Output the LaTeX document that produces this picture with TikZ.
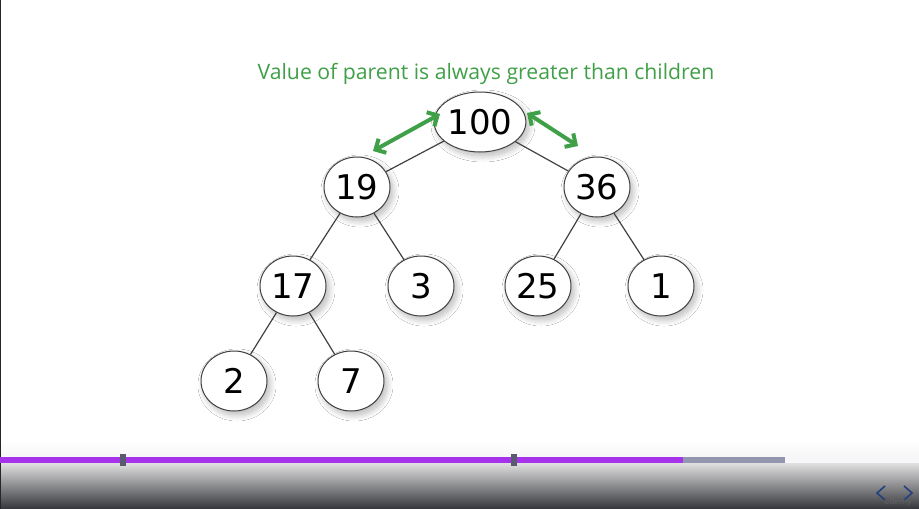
\documentclass[tikz,border=0pt]{standalone}
\usepackage{fontspec}
\setmainfont{DejaVu Sans}
\newfontfamily\greenfont{Open Sans}
\usetikzlibrary{shapes.geometric,shadows.blur,arrows.meta}
\definecolor{hgreen}{RGB}{64,160,72}
\definecolor{edgegray}{RGB}{65,65,65}
\definecolor{barpurple}{RGB}{166,51,234}
\definecolor{bargray}{RGB}{146,150,174}
\definecolor{barlight}{RGB}{246,246,248}
\definecolor{markgray}{RGB}{88,90,110}
\definecolor{chevblue}{RGB}{35,65,125}
\begin{document}
\begin{tikzpicture}[x=1pt,y=-1pt,
  heapnode/.style={ellipse, draw=black!75, line width=1pt, fill=white,
    minimum width=66pt, minimum height=60pt, inner sep=0pt,
    font=\fontsize{34}{34}\selectfont,
    blur shadow={shadow xshift=3pt, shadow yshift=-4pt, shadow blur radius=6pt, shadow blur steps=16, shadow opacity=28}},
  heapedge/.style={draw=edgegray, line width=1.2pt},
  cmparrow/.style={draw=hgreen, line width=4pt, {Straight Barb[length=8pt,width=16pt]}-{Straight Barb[length=8pt,width=16pt]}}
]
\useasboundingbox (0,0) rectangle (919,509);
\fill[white] (0,0) rectangle (919,509);
% left border
\draw[black!85, line width=1.2pt] (0.6,0) -- (0.6,509);
% caption
\node[text=hgreen, font=\greenfont\fontsize{21.2}{23}\selectfont] (cap) at (486,74) {Value of parent is always greater than children};
% nodes
\node[heapnode] (n100) at (480,122) {100};
\node[heapnode] (n19) at (357,187) {19};
\node[heapnode] (n36) at (597,187) {36};
\node[heapnode] (n17) at (293,286) {17};
\node[heapnode] (n3) at (421,286) {3};
\node[heapnode] (n25) at (538,286) {25};
\node[heapnode] (n1) at (661,286) {1};
\node[heapnode] (n2) at (234,381) {2};
\node[heapnode] (n7) at (351,381) {7};
% edges
\draw[heapedge] (n100) -- (n19);
\draw[heapedge] (n100) -- (n36);
\draw[heapedge] (n19) -- (n17);
\draw[heapedge] (n19) -- (n3);
\draw[heapedge] (n36) -- (n25);
\draw[heapedge] (n36) -- (n1);
\draw[heapedge] (n17) -- (n2);
\draw[heapedge] (n17) -- (n7);
% green arrows
\coordinate (la) at (373,151);
\coordinate (lb) at (440,114);
\coordinate (ra) at (527,113);
\coordinate (rb) at (578,146);
\draw[cmparrow] (la) -- (lb);
\draw[cmparrow] (ra) -- (rb);
% player bar
\shade[top color=white, bottom color=barlight] (1.2,440) rectangle (919,457);
\shade[top color=black!12, bottom color={rgb,255:red,52;green,53;blue,58}] (1.2,463) rectangle (919,509);
\fill[barlight] (0,457) rectangle (919,463);
\fill[bargray] (0,457) rectangle (785,463);
\fill[barpurple] (0,457) rectangle (683,463);
\fill[markgray] (120,454) rectangle (126,466);
\fill[markgray] (511,454) rectangle (517,466);
% chevrons
\draw[chevblue, line width=1.6pt] (885,486) -- (877,493) -- (885,500);
\draw[chevblue, line width=1.6pt] (904,486) -- (912,493) -- (904,500);
\node[text=black!55, opacity=0.5, font=\fontsize{8}{8}\selectfont] (wm) at (898,502) {udemy};
\end{tikzpicture}
\end{document}
